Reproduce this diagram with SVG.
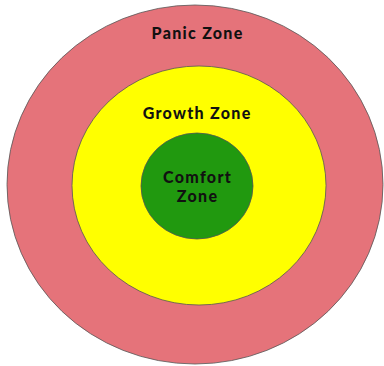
<svg xmlns="http://www.w3.org/2000/svg" width="384" height="366" viewBox="0 0 384 366">
<style>
.ring{stroke:#555;stroke-width:0.8}
.lbl{font-family:"Lato","Liberation Sans",sans-serif;font-weight:900;font-size:16px;letter-spacing:1.3px;fill:#111;text-anchor:middle}
</style>
<rect width="384" height="366" fill="#fff"/>
<g id="panic">
<ellipse class="ring" cx="195" cy="184.5" rx="188" ry="179.5" fill="#E5737A"/>
<text class="lbl" x="197.6" y="39">Panic Zone</text>
</g>
<g id="growth">
<ellipse class="ring" cx="199" cy="185.5" rx="127" ry="119.5" fill="#FFFF00"/>
<text class="lbl" x="197.1" y="119">Growth Zone</text>
</g>
<g id="comfort">
<ellipse class="ring" cx="197" cy="186" rx="56" ry="53" fill="#21990F"/>
<text class="lbl" x="197.6" y="183">Comfort</text>
<text class="lbl" x="197.6" y="202">Zone</text>
</g>
<g id="connectors"/>
</svg>
